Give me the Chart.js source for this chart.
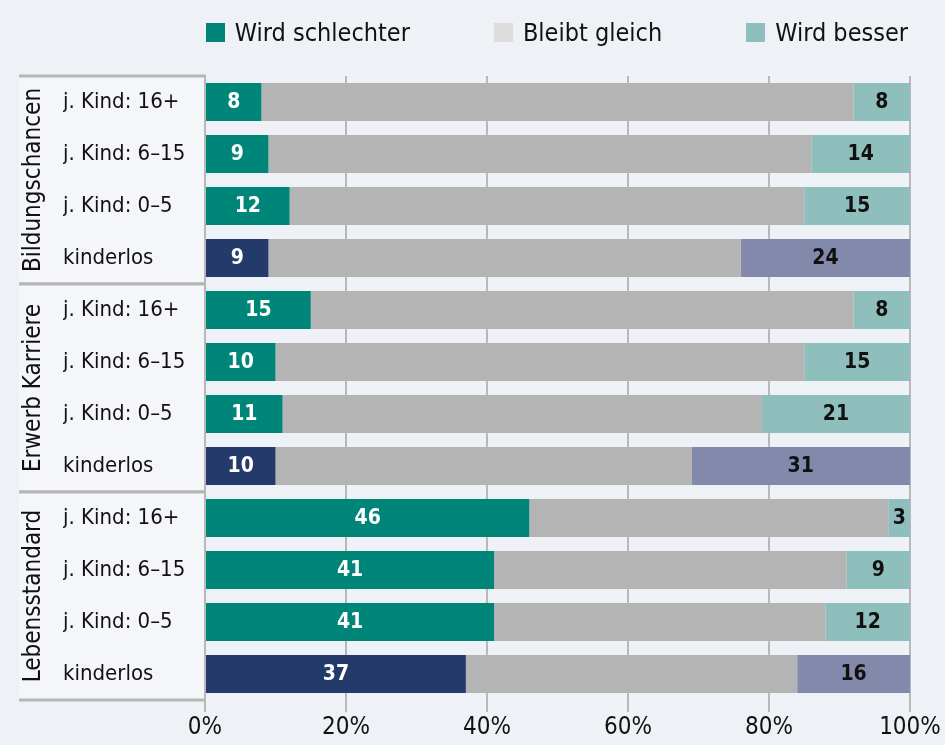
<!DOCTYPE html>
<html>
<head>
<meta charset="utf-8">
<script src="https://cdn.jsdelivr.net/npm/chart.js@4.4.1/dist/chart.umd.min.js"></script>
<style>
  html, body { margin: 0; padding: 0; background: #eef2f7; }
  #wrap { position: relative; width: 945px; height: 745px; }
  #legend {
    position: absolute; top: 18px; right: 37px;
    display: flex; gap: 84px; align-items: center;
    font-family: "Liberation Sans Narrow", "DejaVu Sans Condensed", "Roboto Condensed", sans-serif;
    font-size: 25px; color: #111;
  }
  #legend .item { display: flex; align-items: center; }
  #legend .box { width: 19px; height: 19px; margin-right: 10px; }
</style>
</head>
<body>
<div id="wrap">
  <div id="legend"></div>
  <canvas id="myChart" width="945" height="745"></canvas>
</div>
<script>
const FONT = '"Liberation Sans Narrow", "DejaVu Sans Condensed", "Roboto Condensed", sans-serif'

const groups = ['Bildungschancen', 'Erwerb Karriere', 'Lebensstandard']
const categories = [
  'j. Kind: 16+', 'j. Kind: 6–15', 'j. Kind: 0–5', 'kinderlos',
  'j. Kind: 16+', 'j. Kind: 6–15', 'j. Kind: 0–5', 'kinderlos',
  'j. Kind: 16+', 'j. Kind: 6–15', 'j. Kind: 0–5', 'kinderlos'
]
const seriesNames = ['Wird schlechter', 'Bleibt gleich', 'Wird besser']
const worse = [8, 9, 12, 9, 15, 10, 11, 10, 46, 41, 41, 37]
const same = [84, 77, 73, 67, 77, 75, 68, 59, 51, 50, 47, 47]
const better = [8, 14, 15, 24, 8, 15, 21, 31, 3, 9, 12, 16]
const xTicks = [0, 20, 40, 60, 80, 100]

const teal = '#008579'
const navy = '#233a6b'
const grey = '#b3b4b3'
const lightTeal = '#8fbfbc'
const lavender = '#8389ab'
const legendColors = [teal, '#dcdcdc', lightTeal]

const isChildless = (i) => categories[i] === 'kinderlos'

// html legend
const legendEl = document.getElementById('legend')
seriesNames.forEach((name, i) => {
  let item = document.createElement('div')
  item.className = 'item'
  item.innerHTML = '<span class="box" style="background:' + legendColors[i] + '"></span><span>' + name + '</span>'
  legendEl.appendChild(item)
})

// group boxes on the left, drawn before the axis labels
const groupPanels = {
  id: 'groupPanels',
  beforeDraw(chart) {
    const ctx = chart.ctx
    const y = chart.scales.y
    const step = y.getPixelForValue(1) - y.getPixelForValue(0)
    const left = 19
    const right = chart.chartArea.left
    ctx.save()
    groups.forEach((g, gi) => {
      let top = y.getPixelForValue(gi * 4) - step / 2
      let bottom = y.getPixelForValue(gi * 4 + 3) + step / 2
      ctx.fillStyle = '#f4f6fa'
      ctx.fillRect(left, top, right - left, bottom - top)
      ctx.fillStyle = '#b5b5b5'
      ctx.fillRect(left, top - 1.5, right - left + 1, 3)
      ctx.fillRect(left, bottom - 1.5, right - left + 1, 3)
      ctx.save()
      ctx.translate(34, (top + bottom) / 2)
      ctx.rotate(-Math.PI / 2)
      ctx.fillStyle = '#111'
      ctx.font = '24px ' + FONT
      ctx.textAlign = 'center'
      ctx.textBaseline = 'middle'
      ctx.fillText(g, 0, 0)
      ctx.restore()
    })
    ctx.restore()
  }
}

const barLabels = {
  id: 'barLabels',
  afterDatasetsDraw(chart) {
    const ctx = chart.ctx
    ctx.save()
    ctx.font = 'bold 21px ' + FONT
    ctx.textAlign = 'center'
    ctx.textBaseline = 'middle'
    ;[0, 2].forEach(di => {
      const meta = chart.getDatasetMeta(di)
      meta.data.forEach((bar, i) => {
        let v = chart.data.datasets[di].data[i]
        let p = bar.getProps(['x', 'y', 'base'], true)
        ctx.fillStyle = di === 0 ? '#ffffff' : '#111111'
        ctx.fillText(String(v), (p.x + p.base) / 2, p.y + 1)
      })
    })
    ctx.restore()
  }
}

const ctx = document.getElementById('myChart').getContext('2d')
const chart = new Chart(ctx, {
  type: 'bar',
  data: {
    labels: categories,
    datasets: [
      {
        label: seriesNames[0],
        data: worse,
        backgroundColor: worse.map((v, i) => isChildless(i) ? navy : teal)
      },
      {
        label: seriesNames[1],
        data: same,
        backgroundColor: grey
      },
      {
        label: seriesNames[2],
        data: better,
        backgroundColor: better.map((v, i) => isChildless(i) ? lavender : lightTeal)
      }
    ]
  },
  options: {
    indexAxis: 'y',
    responsive: false,
    animation: false,
    layout: { padding: { top: 76, left: 63, right: 35, bottom: 0 } },
    datasets: { bar: { barPercentage: 0.73, categoryPercentage: 1 } },
    plugins: {
      legend: { display: false },
      tooltip: { enabled: false }
    },
    scales: {
      x: {
        stacked: true,
        min: 0,
        max: 100,
        afterBuildTicks: (scale) => { scale.ticks = xTicks.map(v => ({ value: v })) },
        grid: { color: '#b8b8b8', lineWidth: 2, tickLength: 12, drawOnChartArea: true },
        border: { display: false },
        ticks: {
          padding: 1,
          color: '#111',
          font: { family: FONT, size: 24 },
          callback: (v) => v + '%'
        },
        afterFit: (scale) => { scale.height = 45 }
      },
      y: {
        stacked: true,
        grid: { display: false },
        border: { display: false },
        ticks: {
          crossAlign: 'far',
          color: '#111',
          font: { family: FONT, size: 22 },
          autoSkip: false
        },
        afterFit: (scale) => { scale.width = 142 }
      }
    }
  },
  plugins: [groupPanels, barLabels]
})
</script>
</body>
</html>
